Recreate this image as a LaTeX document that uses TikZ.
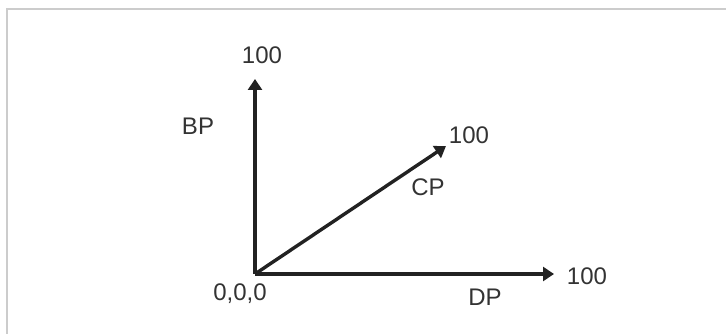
\documentclass[tikz,border=0pt]{standalone}
\usepackage{fontspec}
\setmainfont{Liberation Sans}
\usetikzlibrary{arrows.meta}
\definecolor{axiscol}{HTML}{222222}
\definecolor{textcol}{HTML}{333333}
\definecolor{framecol}{HTML}{CCCCCC}
\begin{document}
\begin{tikzpicture}[x=1pt,y=1pt,
  axis/.style={line width=3.4pt,draw=axiscol,-{Triangle[length=11pt,width=14pt]}},
  lbl/.style={text=textcol,font=\fontsize{24}{28}\selectfont,inner sep=0pt}]
\useasboundingbox (0,0) rectangle (726,334);
\draw[framecol,line width=1.5pt] (7,0) -- (7,325) -- (726,325);
\coordinate (O) at (255,60);
\coordinate (B) at (255,255);
\coordinate (D) at (554,60);
\coordinate (C) at (446,188);
\draw[axis] (O) -- (B);
\draw[axis] (O) -- (D);
\draw[axis] (O) -- (C);
\node[lbl] (tB) at (262,279) {100};
\node[lbl] (lB) at (198,208) {BP};
\node[lbl] (lC) at (428,147) {CP};
\node[lbl] (tC) at (469,199) {100};
\node[lbl] (tD) at (587,58) {100};
\node[lbl] (tO) at (240,40) {0,0,0};
\node[lbl] (lD) at (485,37) {DP};
\end{tikzpicture}
\end{document}
